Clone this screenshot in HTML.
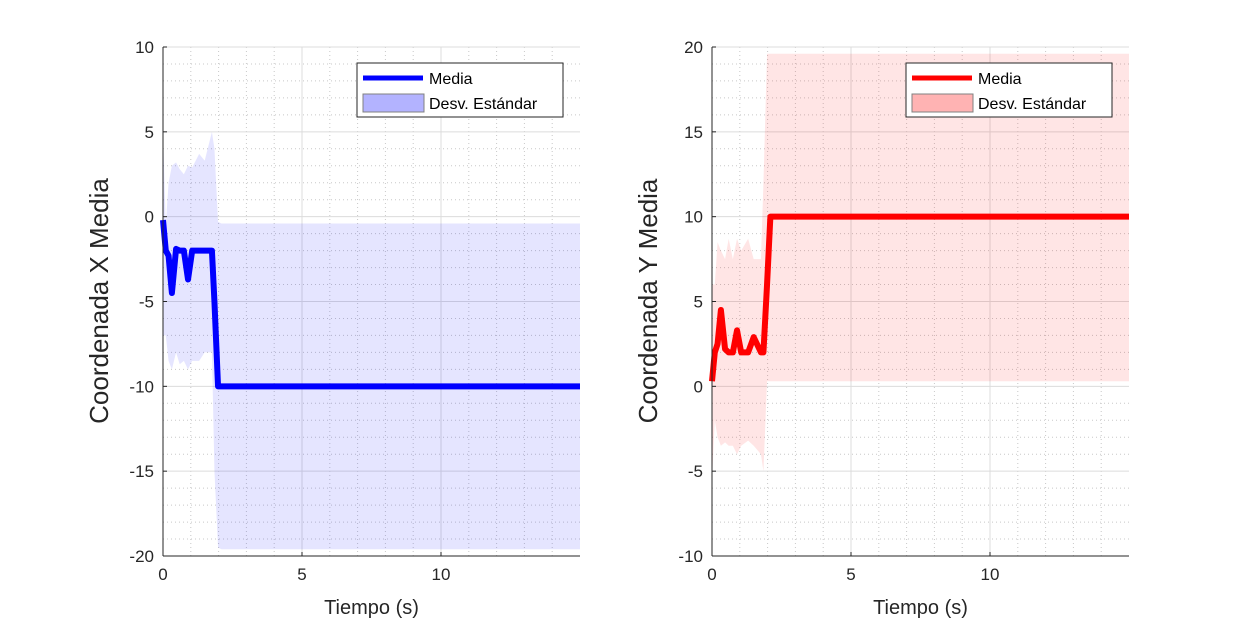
<!DOCTYPE html>
<html><head><meta charset="utf-8"><style>
body{margin:0;background:#fff;}
svg{display:block;font-family:"Liberation Sans",Arial,sans-serif;}
</style></head><body>
<svg id="chart" width="1250" height="625" viewBox="0 0 1250 625"></svg>
<script>
// Shared time axis samples
const timeX = [0,0.1,0.2,0.32,0.47,0.6,0.75,0.9,1.05,1.3,1.5,1.76,1.85,1.98,2.1,15];
// Left panel (X coordinate)
const meanX = [-0.2,-2,-2.3,-4.5,-1.9,-2,-2,-3.7,-2,-2,-2,-2,-5,-10,-10,-10];
const upperX = [5,-0.5,2,3,3.2,2.8,2.5,3,2.9,3.7,3.3,5,4,-0.3,-0.4,-0.4];
const lowerX = [-7,-7,-8.5,-9,-8,-8.7,-8.5,-9,-8.5,-8.5,-8,-8,-15,-19.5,-19.6,-19.6];
// Right panel (Y coordinate)
const meanY = [0.3,2,2.5,4.5,2.2,2,2,3.3,2,2,2.9,2,2,6,10,10];
const upperY = [6,6,8.5,8,7.5,8.7,7.5,8.7,8,8.7,7.5,7.5,12,19.6,19.6,19.6];
const lowerY = [-5.5,-2,-3,-3.5,-3.3,-3.5,-3.5,-4,-3.5,-3.2,-3.5,-4,-5,0.3,0.3,0.3];
const xTicks = [0,5,10];
const yTicksL = [10,5,0,-5,-10,-15,-20];
const yTicksR = [20,15,10,5,0,-5,-10];

const NS="http://www.w3.org/2000/svg";
const svg=document.getElementById('chart');
function mk(tag,attrs,parent){const e=document.createElementNS(NS,tag);for(const k in attrs)e.setAttribute(k,attrs[k]);(parent||svg).appendChild(e);return e;}

function panel(o){
  const g=mk('g',{});
  
  
  const L=o.left,R=o.left+417,T=47,B=556;
  const sx=t=>L+(t-0)/(15-0)*(R-L);
  const sy=v=>T+(o.ymax-v)/(o.ymax-o.ymin)*(B-T);
  for(let t=1;t<15;t++){if(t%5)mk('line',{x1:sx(t),x2:sx(t),y1:T,y2:B,stroke:'#c8c8c8','stroke-dasharray':'1,3','stroke-width':1},g);}
  for(let v=o.ymin+1;v<o.ymax;v++){if(v%5)mk('line',{x1:L,x2:R,y1:sy(v),y2:sy(v),stroke:'#c8c8c8','stroke-dasharray':'1,3','stroke-width':1},g);}
  xTicks.forEach(t=>{if(t>0)mk('line',{x1:sx(t),x2:sx(t),y1:T,y2:B,stroke:'#dcdcdc'},g);});
  o.yt.forEach(v=>mk('line',{x1:L,x2:R,y1:sy(v),y2:sy(v),stroke:'#dcdcdc'},g));
  let pts=timeX.map((t,i)=>sx(t)+','+sy(o.up[i]));
  for(let i=timeX.length-1;i>=0;i--)pts.push(sx(timeX[i])+','+sy(o.lo[i]));
  const band=mk('polygon',{points:pts.join(' '),fill:o.color,'fill-opacity':0.1},g);
  
  
  const ln=mk('polyline',{points:timeX.map((t,i)=>sx(t)+','+sy(o.mean[i])).join(' '),fill:'none',stroke:o.color,'stroke-width':6,'stroke-linejoin':'round'},g);
  
  
  mk('line',{x1:L,x2:L,y1:T,y2:B,stroke:'#262626'},g);
  mk('line',{x1:L,x2:R,y1:B,y2:B,stroke:'#262626'},g);
  xTicks.forEach(t=>{mk('line',{x1:sx(t),x2:sx(t),y1:B,y2:B-4,stroke:'#262626'},g);
    const tx=mk('text',{x:sx(t),y:B+24,'text-anchor':'middle','font-size':17,fill:'#262626'},g);tx.textContent=t;
    });
  o.yt.forEach(v=>{mk('line',{x1:L,x2:L+4,y1:sy(v),y2:sy(v),stroke:'#262626'},g);
    const tx=mk('text',{x:L-9,y:sy(v)+6,'text-anchor':'end','font-size':17,fill:'#262626'},g);tx.textContent=v;
    });
  const xl=mk('text',{x:(L+R)/2,y:614,'text-anchor':'middle','font-size':20,fill:'#262626'},g);xl.textContent='Tiempo (s)';
  
  const yl=mk('text',{x:0,y:0,'text-anchor':'middle','font-size':26,fill:'#262626',transform:`translate(${L-55},301) rotate(-90)`},g);yl.textContent=o.ylabel;
  
  const lg=mk('g',{},g);
  
  const lx=L+194;
  mk('rect',{x:lx,y:63,width:206,height:54,fill:'#fff',stroke:'#262626'},lg);
  mk('line',{x1:lx+6,x2:lx+66,y1:78,y2:78,stroke:o.color,'stroke-width':5},lg);
  mk('rect',{x:lx+6,y:94,width:61,height:18,fill:o.patch,stroke:'#808080'},lg);
  let t1=mk('text',{x:lx+72,y:84,'font-size':16,fill:'#000'},lg);t1.textContent='Media';
  
  let t2=mk('text',{x:lx+72,y:109,'font-size':16,fill:'#000'},lg);t2.textContent='Desv. Estándar';
  
}
panel({name:'panel-x',left:163,ymin:-20,ymax:10,yt:yTicksL,mean:meanX,up:upperX,lo:lowerX,color:'#0000ff',patch:'#b3b3ff',ylabel:'Coordenada X Media'});
panel({name:'panel-y',left:712,ymin:-10,ymax:20,yt:yTicksR,mean:meanY,up:upperY,lo:lowerY,color:'#ff0000',patch:'#ffb3b3',ylabel:'Coordenada Y Media'});
</script>
</body></html>
